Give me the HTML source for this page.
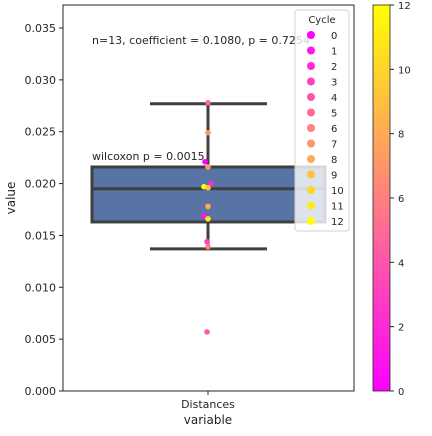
<!DOCTYPE html>
<html><head><meta charset="utf-8"><style>
body{margin:0;background:#fff;font-family:"DejaVu Sans","Liberation Sans",sans-serif}
svg text{font-family:"DejaVu Sans","Liberation Sans",sans-serif;fill:#262626}
</style></head><body>
<svg id="c" width="432" height="432">
<defs><linearGradient id="cb" x1="0" y1="1" x2="0" y2="0">
<stop offset="0" stop-color="#ff00ff"/><stop offset="1" stop-color="#ffff00"/></linearGradient></defs>
<g id="plot"></g>
</svg>
<script>
const yTicks=[0,0.005,0.010,0.015,0.020,0.025,0.030,0.035];
const cycles=[5,7,0,7,2,12,9,8,1,11,3,6,4];
const values=[0.0278,0.0249,0.0221,0.0216,0.0200,0.0197,0.0196,0.0178,0.0169,0.0166,0.0144,0.0139,0.0057];
const jitter=[0,0,-3,0,3,-4,0,0,-4,0,-1,0,-1];
const boxStats=[0.0137,0.0163,0.0195,0.0216,0.0277];
const cbTicks=[0,2,4,6,8,10,12];
const legendLevels=[0,1,2,3,4,5,6,7,8,9,10,11,12];
const NS='http://www.w3.org/2000/svg';
const g=document.getElementById('plot');
const L=63,R=354,T=5,B=391;
const y=v=>B-v*10371;
const cy=c=>B-(B-T)*c/12;
const col=c=>{const t=c/12;return `rgb(255,${Math.round(255*t)},${Math.round(255*(1-t))})`;};
function el(tag,a,txt){const e=document.createElementNS(NS,tag);for(const k in a)e.setAttribute(k,a[k]);if(txt!==undefined)e.textContent=txt;g.appendChild(e);return e;}
let e;
yTicks.forEach(v=>{
 e=el('line',{x1:L-4,x2:L,y1:y(v),y2:y(v),stroke:'#262626'});
 
 e=el('text',{x:L-7,y:y(v)+4,'text-anchor':'end','font-size':'11'},v.toFixed(3));
 
});
const cx=208;
e=el('line',{x1:cx,x2:cx,y1:y(boxStats[0]),y2:y(boxStats[1]),stroke:'#3f3f3f','stroke-width':3});

e=el('line',{x1:cx,x2:cx,y1:y(boxStats[3]),y2:y(boxStats[4]),stroke:'#3f3f3f','stroke-width':3});

e=el('line',{x1:150,x2:267,y1:y(boxStats[0]),y2:y(boxStats[0]),stroke:'#3f3f3f','stroke-width':3});

e=el('line',{x1:150,x2:267,y1:y(boxStats[4]),y2:y(boxStats[4]),stroke:'#3f3f3f','stroke-width':3});

e=el('rect',{x:92,y:y(boxStats[3]),width:233,height:y(boxStats[1])-y(boxStats[3]),fill:'#5874a4',stroke:'#3f3f3f','stroke-width':3});

e=el('line',{x1:92,x2:325,y1:y(boxStats[2]),y2:y(boxStats[2]),stroke:'#3f3f3f','stroke-width':3});

values.forEach((v,i)=>{
 e=el('circle',{cx:cx+jitter[i],cy:y(v),r:2.8,fill:col(cycles[i])});
 
});
e=el('rect',{x:L,y:T,width:R-L,height:B-T,fill:'none',stroke:'#262626','stroke-width':1});

e=el('text',{x:92,y:44,'font-size':'11'},'n=13, coefficient = 0.1080, p = 0.7254');

e=el('text',{x:92,y:160,'font-size':'11'},'wilcoxon p = 0.0015');

e=el('line',{x1:cx,x2:cx,y1:B,y2:B+4,stroke:'#262626'});

e=el('text',{x:cx,y:408,'text-anchor':'middle','font-size':'11'},'Distances');

e=el('text',{x:cx,y:424,'text-anchor':'middle','font-size':'12'},'variable');

e=el('text',{x:15,y:198,'text-anchor':'middle','font-size':'12',transform:'rotate(-90 15 198)'},'value');

e=el('rect',{x:295,y:10,width:54,height:221,rx:3,fill:'rgba(255,255,255,0.8)',stroke:'#d0d0d0'});

e=el('text',{x:322,y:23,'text-anchor':'middle','font-size':'10'},'Cycle');

legendLevels.forEach((c,i)=>{
 const yy=35+i*15.5;
 e=el('circle',{cx:311,cy:yy,r:4,fill:col(c)});
 
 e=el('text',{x:331,y:yy+4,'font-size':'10'},String(c));
 
});
e=el('rect',{x:373,y:T,width:17,height:B-T,fill:'url(#cb)',stroke:'#262626','stroke-width':0.8});

cbTicks.forEach(c=>{
 e=el('line',{x1:390,x2:394,y1:cy(c),y2:cy(c),stroke:'#262626'});
 
 e=el('text',{x:398,y:cy(c)+4,'font-size':'10'},String(c));
 
});
</script>
</body></html>
